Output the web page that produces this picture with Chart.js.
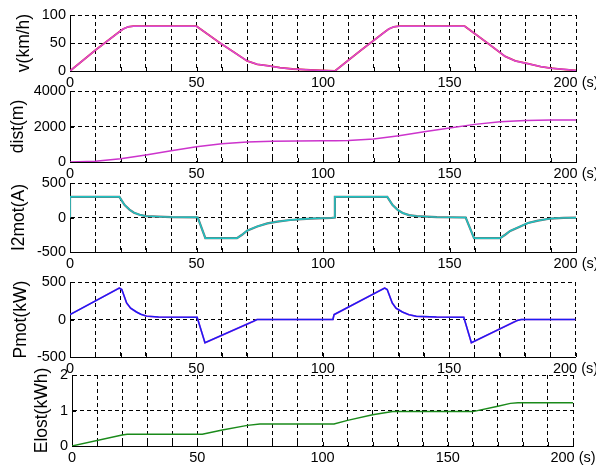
<!DOCTYPE html>
<html>
<head>
<meta charset="utf-8">
<script src="https://cdn.jsdelivr.net/npm/chart.js@4"></script>
<style>
  html, body { margin: 0; padding: 0; background: #fff; }
  #wrap { position: relative; width: 596px; height: 469px; overflow: hidden; background: #fff; }
  #wrap canvas { position: absolute; left: 0; }
</style>
</head>
<body>
<div id="wrap">
  <canvas id="c1"></canvas>
  <canvas id="c2"></canvas>
  <canvas id="c3"></canvas>
  <canvas id="c4"></canvas>
  <canvas id="c5"></canvas>
</div>
<script>
// time axis (s)
const xTicks = [0, 50, 100, 150, 200];

// speed v (km/h)
const vTime = [0, 10, 19.5, 21, 23, 25, 50, 59.3, 65, 70, 74, 78, 83, 88, 95, 100, 104.7, 115, 124.5, 126, 128, 130, 156, 165, 172, 176, 181, 186, 190, 195, 200];
const vSpeed = [0, 37, 70, 75, 79, 80, 80, 50, 33, 18, 12, 9.5, 6, 3.6, 2, 1, 0, 37, 70, 75, 79, 80, 80, 50, 26, 18, 13, 8, 5, 3, 1];

// distance (m)
const dTime = [0, 10, 20, 30, 40, 50, 60, 70, 80, 90, 100, 105, 110, 120, 130, 140, 150, 160, 170, 180, 190, 200];
const dDist = [0, 40, 180, 400, 630, 860, 1030, 1120, 1170, 1190, 1200, 1200, 1210, 1290, 1480, 1700, 1920, 2120, 2270, 2340, 2360, 2370];

// motor current I2mot (A)
const iTime = [0, 0, 19.5, 21.6, 23.5, 25.3, 27.5, 30, 40, 50, 50.5, 53.5, 66, 68, 70, 74, 78, 82, 87, 95, 103.5, 104.7, 104.7, 125.4, 127.5, 129.5, 131.5, 134, 137, 145, 156.4, 159.7, 170, 172, 174, 178, 181, 185, 190, 195, 200];
const iCurr = [0, 300, 300, 180, 115, 69, 40, 20, 6, 3, 0, -300, -300, -250, -190, -130, -85, -60, -36, -15, -5, 0, 300, 300, 180, 110, 65, 35, 20, 6, 0, -300, -300, -250, -195, -130, -80, -45, -15, -6, -3];

// motor power Pmot (kW)
const pTime = [0, 19.5, 20.5, 22.4, 24, 26.3, 28, 30.3, 35, 50.3, 53.4, 72.5, 74, 104, 104.5, 124.5, 125.5, 127.5, 129, 131.5, 134, 137, 145, 155.8, 158.8, 177, 178.5, 200];
const pPow = [65, 420, 400, 220, 150, 100, 70, 45, 32, 30, -310, -25, 0, 0, 65, 420, 400, 220, 150, 100, 65, 42, 32, 30, -310, -12, 0, 0];

// lost energy Elost (kWh)
const eTime = [0, 20, 22, 52, 60, 70, 75, 104.6, 110, 120, 128, 160, 170, 175, 178, 200];
const eLost = [0, 0.31, 0.33, 0.33, 0.45, 0.58, 0.62, 0.62, 0.72, 0.88, 0.97, 0.97, 1.12, 1.2, 1.22, 1.22];

const FONT = 'Liberation Sans, Arial, sans-serif';
const pts = (xs, ys) => xs.map((x, i) => ({ x: x, y: ys[i] }));

// MATLAB style ticks pointing into the axes
const innerTicks = {
  id: 'innerTicks',
  beforeDatasetsDraw(chart) {
    const { ctx, chartArea: a, scales: { x, y } } = chart;
    ctx.save();
    ctx.strokeStyle = '#000';
    ctx.lineWidth = 1;
    ctx.beginPath();
    x.ticks.forEach(t => {
      const px = Math.round(x.getPixelForValue(t.value)) + 0.5;
      ctx.moveTo(px, a.bottom);
      ctx.lineTo(px, a.bottom - 4);
    });
    y.ticks.forEach(t => {
      const py = Math.round(y.getPixelForValue(t.value)) + 0.5;
      ctx.moveTo(a.left, py);
      ctx.lineTo(a.left + 4, py);
    });
    ctx.stroke();
    ctx.restore();
  }
};

// rotated y label, placed by its centre
const yLabel = {
  id: 'yLabel',
  afterDraw(chart, args, opts) {
    const { ctx, chartArea: a } = chart;
    ctx.save();
    ctx.translate(opts.x, (a.top + a.bottom) / 2);
    ctx.rotate(-Math.PI / 2);
    ctx.fillStyle = '#000';
    ctx.font = '17.5px ' + FONT;
    ctx.textAlign = 'center';
    ctx.textBaseline = 'middle';
    ctx.fillText(opts.text, 0, 0);
    ctx.restore();
  }
};

function makePanel(id, box, yMin, yMax, title, titleX, datasets) {
  const el = document.getElementById(id);
  el.width = 596;
  el.height = (box.bottom - box.top) + 10 + 24;
  el.style.top = (box.top - 10) + 'px';
  return new Chart(el, {
    type: 'line',
    data: { datasets: datasets },
    plugins: [innerTicks, yLabel],
    options: {
      responsive: false,
      animation: false,
      layout: { padding: { left: 0, top: 10, right: 596 - box.right, bottom: 0 } },
      plugins: {
        legend: { display: false },
        tooltip: { enabled: false },
        yLabel: { text: title, x: titleX }
      },
      elements: { point: { radius: 0 }, line: { tension: 0 } },
      scales: {
        x: {
          type: 'linear', min: 0, max: 200,
          afterFit: s => { s.height = 24; s.paddingLeft = 0; s.paddingRight = 0; },
          ticks: {
            stepSize: 10, autoSkip: false, maxRotation: 0, padding: 3,
            color: '#000', font: { family: FONT, size: 14.5 },
            callback: v => xTicks.includes(v) ? (v === 200 ? '200 (s)' : String(v)) : ''
          },
          grid: { color: '#000', lineWidth: 1, drawTicks: false },
          border: { display: true, color: '#000', width: 1, dash: [4, 3] }
        },
        y: {
          min: yMin, max: yMax,
          afterFit: s => { s.width = box.left; s.paddingTop = 0; s.paddingBottom = 0; },
          ticks: {
            stepSize: (yMax - yMin) / 2, padding: 4,
            color: '#000', font: { family: FONT, size: 14.5 },
            callback: v => String(v)
          },
          grid: { color: '#000', lineWidth: 1, drawTicks: false },
          border: { display: true, color: '#000', width: 1, dash: [4, 3] }
        }
      }
    }
  });
}

makePanel('c1', { left: 70, right: 576, top: 15, bottom: 71 }, 0, 100, 'v(km/h)', 24, [
  { data: pts(vTime, vSpeed), borderColor: '#d84ad8', borderWidth: 1.5 },
  { data: pts(vTime, vSpeed), borderColor: '#e02020', borderWidth: 1.8 }
]);

makePanel('c2', { left: 70, right: 576, top: 91, bottom: 162 }, 0, 4000, 'dist(m)', 18, [
  { data: pts(dTime, dDist), borderColor: '#cc33cc', borderWidth: 1.5 }
]);

makePanel('c3', { left: 70, right: 576, top: 183, bottom: 252 }, -500, 500, 'I2mot(A)', 19.5, [
  { data: pts(iTime, iCurr), borderColor: '#1cc4c4', borderWidth: 1.4 },
  { data: pts(iTime, iCurr), borderColor: '#707070', borderWidth: 2.2 }
]);

makePanel('c4', { left: 70, right: 575.5, top: 282, bottom: 357 }, -500, 500, 'Pmot(kW)', 21, [
  { data: pts(pTime, pPow), borderColor: '#1c1cf4', borderWidth: 1.5 },
  { data: pts(pTime, pPow), borderColor: '#e050d0', borderWidth: 1.7 }
]);

makePanel('c5', { left: 72, right: 573, top: 375, bottom: 446 }, 0, 2, 'Elost(kWh)', 42, [
  { data: pts(eTime, eLost), borderColor: '#1a8a1a', borderWidth: 1.4 }
]);
</script>
</body>
</html>
